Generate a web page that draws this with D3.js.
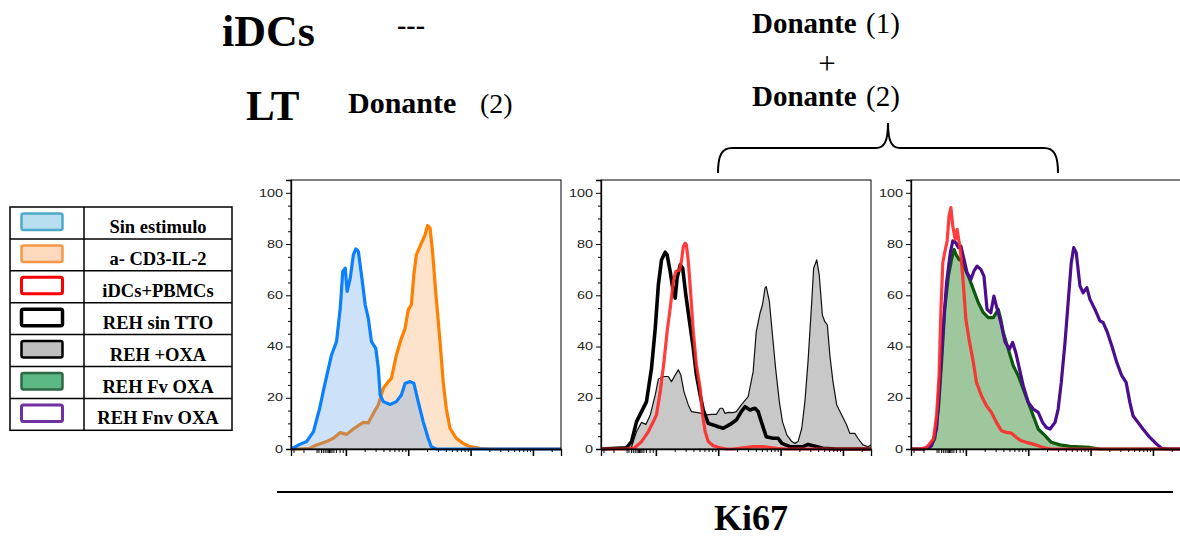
<!DOCTYPE html>
<html>
<head>
<meta charset="utf-8">
<script src="https://cdn.jsdelivr.net/npm/d3@7"></script>
<style>
body{margin:0;background:#fff;}
svg{display:block;}
.serif{font-family:"Liberation Serif","Times New Roman",serif;fill:#000;}
.ax text{font-family:"Liberation Sans",Arial,sans-serif;font-size:10px;fill:#222;}
</style>
</head>
<body>
<svg width="1180" height="538"></svg>
<script>
// legend rows
var legendLabels = ["Sin estimulo","a- CD3-IL-2","iDCs+PBMCs","REH sin TTO","REH +OXA","REH Fv OXA","REH Fnv OXA"];

// axis ticks (x is the log-like Ki67 scale, decades at 1..4)
var yTicks = [0,20,40,60,80,100];
var yMinorTicks = [5,10,15,25,30,35,45,50,55,65,70,75,85,90,95];
var xMajorTicks = [1,2,3,4];
var xNearZeroTicks = [0.16,0.32,0.53,0.56,0.6,0.63,0.66,0.69,0.71,0.73,0.75,0.77,0.8,0.84,0.9,0.95];
var xMinorTicks = [];
[1,2,3].forEach(function(k){
    [2,3,4,5,6,7,8,9].forEach(function(m){ xMinorTicks.push(k+Math.log10(m)); });
});
xMinorTicks.push(4+Math.log10(2));

// histograms, [Ki67 position, % of max]
var sinEstimulo = [[0.12,0],[0.26,1.8],[0.37,2.9],[0.48,6.8],[0.58,15.9],[0.66,25],[0.77,36.7],[0.85,41.9],[0.91,55],[0.95,69.3],[0.99,70.6],[1.02,61.5],[1.07,66.7],[1.12,75.8],[1.16,78.1],[1.20,77.1],[1.25,68],[1.31,56.3],[1.36,51],[1.41,41.9],[1.48,39.3],[1.52,31.5],[1.55,21.1],[1.60,18.5],[1.71,17.4],[1.81,18.5],[1.89,21.1],[1.95,25.7],[2.03,26.3],[2.09,25.7],[2.16,18.5],[2.24,10.7],[2.32,4.2],[2.37,0.9],[2.45,0],[4.45,0]];
var cd3il2 = [[0.12,0],[0.21,0],[0.42,0.3],[0.53,1.6],[0.69,2.9],[0.80,4.2],[0.91,6.4],[1.01,5.7],[1.12,7.8],[1.20,9.1],[1.28,10.4],[1.36,10.2],[1.44,13.9],[1.52,17.2],[1.60,23.7],[1.68,26.3],[1.73,27.6],[1.81,36.7],[1.89,43.2],[1.95,47.1],[2.00,54.3],[2.05,56.3],[2.09,68],[2.13,75.8],[2.21,80.3],[2.27,83.6],[2.31,87.2],[2.35,86.2],[2.39,77.1],[2.44,61.5],[2.51,41.9],[2.56,26.3],[2.61,15.9],[2.67,8.1],[2.77,4.2],[2.88,2.2],[2.99,0.9],[3.15,0.3],[3.31,0],[4.45,0]];
var rehOxa = [[0.12,0],[0.53,0],[0.61,0.9],[0.69,6.8],[0.77,10.4],[0.84,9.6],[0.91,13.3],[0.99,21.1],[1.04,27.3],[1.12,28.3],[1.20,28.3],[1.25,26.3],[1.31,28.9],[1.36,30.9],[1.40,28.9],[1.45,22.4],[1.52,17.2],[1.57,14.6],[1.65,14.3],[1.73,13.9],[1.81,13.3],[1.89,13.5],[1.97,13.5],[2.03,15.9],[2.07,15.9],[2.11,13.9],[2.16,14.3],[2.24,14.2],[2.29,14.6],[2.37,17.2],[2.48,20.4],[2.56,30.2],[2.61,45.8],[2.67,53],[2.71,56.3],[2.75,62.8],[2.77,63.4],[2.82,57.6],[2.87,44.5],[2.92,31.5],[2.98,18.5],[3.03,10.7],[3.10,5.5],[3.18,2.9],[3.23,2.2],[3.28,2.9],[3.34,8.1],[3.39,18.5],[3.44,34.1],[3.50,57.6],[3.53,70.6],[3.58,73.8],[3.62,68],[3.67,52.3],[3.71,49.7],[3.75,48.4],[3.79,36.7],[3.84,26.3],[3.90,17.2],[3.98,13.3],[4.06,9.4],[4.11,6.1],[4.19,6.1],[4.24,4.2],[4.32,1.6],[4.40,0.9],[4.45,1.6]];
var rehSinTto = [[0.12,0],[0.53,0.5],[0.61,2.9],[0.69,10.7],[0.77,14.6],[0.85,18.5],[0.93,31.5],[0.99,47.1],[1.04,64.1],[1.09,73.8],[1.15,76.8],[1.18,75.8],[1.23,69.3],[1.27,62.8],[1.31,58.9],[1.34,66.7],[1.39,71.9],[1.43,70.6],[1.48,60.2],[1.54,49.7],[1.60,39.3],[1.65,28.9],[1.71,21.1],[1.76,15.2],[1.84,10],[1.92,9.4],[2.00,8.7],[2.08,8.1],[2.19,9.6],[2.29,11.3],[2.37,14.6],[2.43,16.5],[2.51,15.2],[2.59,15.9],[2.64,14.6],[2.69,10.7],[2.77,4.8],[2.88,4.2],[2.96,4.2],[3.02,2.2],[3.15,0.9],[3.36,0.9],[3.44,1.8],[3.52,1.3],[3.68,0.3],[3.90,0],[4.45,0]];
var idcsPbmcsA = [[0.12,0],[0.53,0],[0.66,0.5],[0.77,2.9],[0.88,6.8],[0.96,10.7],[1.01,13.3],[1.07,22.4],[1.13,34.1],[1.18,45.8],[1.23,55],[1.28,65.4],[1.32,69.3],[1.38,69.9],[1.41,73.2],[1.44,79],[1.47,80.3],[1.49,79.7],[1.52,73.2],[1.56,60.2],[1.60,45.8],[1.65,32.8],[1.71,23.7],[1.75,13.3],[1.79,6.8],[1.84,2.9],[1.92,1.3],[2.03,0.5],[2.13,0],[2.24,0],[2.40,0.5],[2.56,0.9],[2.72,0.9],[2.94,0.3],[3.10,0],[4.45,0]];
var rehFvOxa = [[0.12,0],[0.32,0],[0.42,0.6],[0.50,3.9],[0.56,15.6],[0.61,33.8],[0.66,54.5],[0.72,67.5],[0.77,74],[0.81,77.9],[0.84,76],[0.89,74],[0.93,73.4],[0.99,70.1],[1.05,66.9],[1.12,62.3],[1.20,57.1],[1.28,53.2],[1.36,51.3],[1.44,51.3],[1.52,54.5],[1.56,50.6],[1.60,45.5],[1.68,39],[1.76,32.5],[1.84,28.6],[1.92,23.4],[2.00,18.2],[2.08,13],[2.16,7.8],[2.27,5.2],[2.37,2.6],[2.51,1.6],[2.67,1],[2.99,0.6],[3.15,0],[4.45,0]];
var rehFnvOxa = [[0.12,0],[0.32,0],[0.45,1.3],[0.53,7.8],[0.58,26],[0.64,48.1],[0.69,64.9],[0.75,76.6],[0.79,81.2],[0.84,80.5],[0.88,78.6],[0.92,79.2],[0.97,74],[1.02,68.8],[1.08,66.2],[1.13,69.5],[1.18,71.4],[1.24,70.1],[1.29,67.5],[1.34,54.5],[1.40,53.2],[1.45,59.7],[1.49,55.8],[1.56,49.4],[1.63,41.6],[1.70,39],[1.75,41.6],[1.80,37.7],[1.86,31.2],[1.92,24.7],[2.00,18.2],[2.08,15.6],[2.16,14.3],[2.23,10.4],[2.29,8.4],[2.35,7.8],[2.43,10.4],[2.48,15.6],[2.53,26],[2.59,41.6],[2.64,57.1],[2.69,72.7],[2.73,78.6],[2.77,76.6],[2.83,63.6],[2.88,61],[2.94,63],[2.99,58.4],[3.07,54.5],[3.15,50],[3.20,49.4],[3.27,45.5],[3.34,40.3],[3.42,33.8],[3.50,28.6],[3.57,26],[3.63,18.2],[3.68,13],[3.76,10.4],[3.84,7.8],[3.95,4.5],[4.06,1.9],[4.14,0.3],[4.27,0],[4.45,0]];
var idcsPbmcsB = [[0.12,0],[0.26,0],[0.37,0.6],[0.48,3.9],[0.53,13],[0.57,28.6],[0.60,54.5],[0.63,72.7],[0.66,76.6],[0.70,81.2],[0.73,90.9],[0.76,94.2],[0.79,87],[0.83,81.8],[0.86,85.7],[0.91,77.9],[0.95,67.5],[1.00,50.6],[1.05,42.9],[1.12,33.8],[1.17,26],[1.25,20.8],[1.33,16.9],[1.41,14.3],[1.49,10.4],[1.57,7.1],[1.65,6.5],[1.73,6.2],[1.81,4.5],[1.89,3.2],[1.97,2.6],[2.08,1.9],[2.16,1.3],[2.24,0.6],[2.35,0],[4.45,0]];

// which histograms go in each panel, in drawing order
var panelSeries = [
    [cd3il2, sinEstimulo],
    [rehOxa, rehSinTto, idcsPbmcsA],
    [rehFvOxa, rehFnvOxa, idcsPbmcsB]
];

// styles
var seriesStyle = function(s){
    if(s===sinEstimulo) return {fill:"rgba(90,160,235,0.3)", stroke:"#0a80ff", w:3.2};
    if(s===cd3il2) return {fill:"#fde3cb", stroke:"#ff7f00", w:3.2};
    if(s===rehOxa) return {fill:"#c8c8c8", stroke:"#111", w:1.2};
    if(s===rehSinTto) return {fill:null, stroke:"#000", w:3.6};
    if(s===rehFvOxa) return {fill:"rgba(40,130,40,0.45)", stroke:"#0b5a0b", w:3.2};
    if(s===rehFnvOxa) return {fill:null, stroke:"#4a0e8e", w:3.2};
    return {fill:null, stroke:"rgba(255,40,40,0.9)", w:3.2};
};
var swatchFill = ["#b9def0","#fdd9bd","#fff","#fff","#bfbfbf","#5cb985","#fff"];
var swatchStroke = ["#4aaac8","#f79646","#ff0000","#000","#000","#2c6a45","#7030a0"];
var swatchWidth = [2.5,2.5,3,3.5,2.5,2.5,3];

var panelLeft = [291,601,911];
var panelTop = 180, pw = 270, ph = 269;

var svg = d3.select("svg");

var x = d3.scaleLinear().domain([0.12,4.45]).range([0,pw]);
var y = d3.scaleLinear().domain([0,105]).range([ph,0]);

var area = d3.area()
    .x(function(d){ return x(d[0]); })
    .y0(y(0))
    .y1(function(d){ return y(d[1]); });
var line = d3.line()
    .x(function(d){ return x(d[0]); })
    .y(function(d){ return y(d[1]); });

panelLeft.forEach(function(left,i){
    var g = svg.append("g").attr("transform","translate("+left+","+panelTop+")");

    g.append("clipPath").attr("id","clip"+i)
        .append("rect").attr("x",0).attr("y",0).attr("width",pw).attr("height",ph+3);

    var plot = g.append("g").attr("clip-path","url(#clip"+i+")");
    panelSeries[i].forEach(function(s){
        var st = seriesStyle(s);
        if(st.fill){
            plot.append("path").datum(s).attr("d",area).attr("fill",st.fill);
        }
        plot.append("path").datum(s).attr("d",line)
            .attr("fill","none")
            .attr("stroke",st.stroke)
            .attr("stroke-width",st.w)
            .attr("stroke-linejoin","round");
    });

    // frame
    g.append("rect").attr("width",pw).attr("height",ph)
        .attr("fill","none").attr("stroke","#000").attr("stroke-width",1);

    // y axis
    g.append("g").attr("class","ax")
        .call(d3.axisLeft(y).tickValues(yMinorTicks).tickSize(3).tickFormat(""))
        .select(".domain").remove();
    var ya = g.append("g").attr("class","ax")
        .call(d3.axisLeft(y).tickValues(yTicks).tickSize(5).tickPadding(3));
    ya.select(".domain").attr("stroke-width",1.3);
    ya.selectAll("text")
        .attr("textLength",function(d){ return String(d).length*8; })
        .attr("lengthAdjust","spacingAndGlyphs");

    // x axis
    var xg = g.append("g").attr("class","ax").attr("transform","translate(0,"+ph+")");
    xg.append("g").call(d3.axisBottom(x).tickValues(xMinorTicks).tickSize(3).tickFormat(""))
        .select(".domain").remove();
    xg.append("g").call(d3.axisBottom(x).tickValues(xNearZeroTicks).tickSize(4).tickFormat(""))
        .select(".domain").remove();
    xg.append("g").call(d3.axisBottom(x).tickValues(xMajorTicks).tickSize(7).tickFormat(""))
        .selectAll("line").attr("stroke-width",1.6);
    xg.selectAll(".domain").attr("stroke-width",1.3);
});

// legend table
var lx = 10, ly = 207, lw = 222, rowH = 31.9, colX = 84;
var legend = svg.append("g");
legend.append("rect").attr("x",lx).attr("y",ly).attr("width",lw).attr("height",rowH*legendLabels.length)
    .attr("fill","none").attr("stroke","#000").attr("stroke-width",1.5);
legend.append("line").attr("x1",colX).attr("x2",colX).attr("y1",ly).attr("y2",ly+rowH*legendLabels.length)
    .attr("stroke","#000").attr("stroke-width",1.5);
legendLabels.forEach(function(lab,i){
    var top = ly+i*rowH;
    if(i>0){
        legend.append("line").attr("x1",lx).attr("x2",lx+lw).attr("y1",top).attr("y2",top)
            .attr("stroke","#000").attr("stroke-width",1.5);
    }
    legend.append("rect").attr("x",21.5).attr("y",top+6.5).attr("width",41).attr("height",16.5).attr("rx",2)
        .attr("fill",swatchFill[i]).attr("stroke",swatchStroke[i]).attr("stroke-width",swatchWidth[i]);
    legend.append("text").attr("class","serif")
        .attr("x",158).attr("y",top+26)
        .attr("text-anchor","middle")
        .attr("font-weight","bold").attr("font-size",18.5)
        .text(lab);
});

// headings
var txt = function(s,xp,yp,size,bold,anchor){
    return svg.append("text").attr("class","serif")
        .attr("x",xp).attr("y",yp)
        .attr("font-size",size)
        .attr("font-weight",bold?"bold":"normal")
        .attr("text-anchor",anchor||"start")
        .text(s);
};
txt("iDCs",222,46,44,true);
txt("LT",246,120,43,true);
txt("---",397,34,28,true);
txt("Donante",348,113,30,true);
txt("(2)",480,113,28,false);
txt("Donante",752,33,29,true);
txt("(1)",866,33,29,false);
txt("+",827,74,31,false,"middle");
txt("Donante",752,106,29,true);
txt("(2)",866,106,29,false);

// brace over the two right panels
svg.append("path")
    .attr("d","M718,173 C718,155 722,148 732,148 L876,148 C884,148 888,142 888,123 C888,142 892,148 900,148 L1044,148 C1054,148 1058,155 1058,173")
    .attr("fill","none").attr("stroke","#000").attr("stroke-width",2);

// Ki67 label
svg.append("line").attr("x1",277).attr("x2",1173).attr("y1",492).attr("y2",492)
    .attr("stroke","#000").attr("stroke-width",2);
txt("Ki67",751,530,36,true,"middle");
</script>
</body>
</html>
